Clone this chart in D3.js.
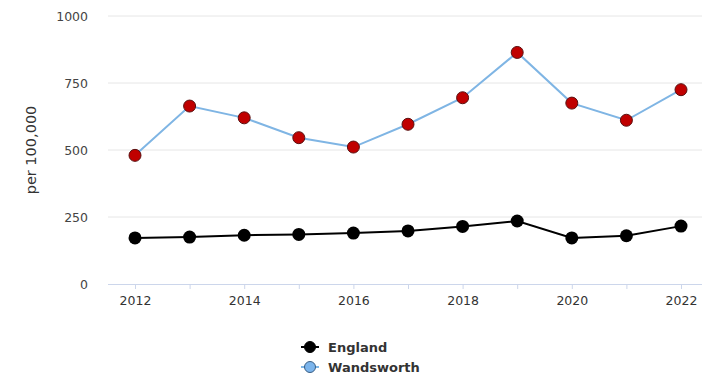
<!DOCTYPE html>
<html><head><meta charset="utf-8">
<script src="https://cdn.jsdelivr.net/npm/d3@7"></script>
<style>body{margin:0;background:#fff}text{font-family:"DejaVu Sans",Verdana,sans-serif}</style>
</head><body><svg id="c" width="702" height="377"></svg>
<script>
const years = [2012,2013,2014,2015,2016,2017,2018,2019,2020,2021,2022];
const england = [172,175,182,185,190,198,215,235,172,180,216];
const wandsworth = [480,664,620,546,511,596,695,864,675,611,725];
const yTicks = [0,250,500,750,1000];
const xTicks = [2012,2014,2016,2018,2020,2022];
const seriesNames = ["England","Wandsworth"];

const svg = d3.select("#c");
const L = 108, R = 702, T = 16, B = 284;
const x = d3.scaleLinear().domain([2012,2022]).range([135,681]);
const y = d3.scaleLinear().domain([0,1000]).range([B,T]);

// gridlines
svg.append("g").selectAll("line").data(yTicks.filter(d=>d>0)).join("line")
  .attr("x1",L).attr("x2",R).attr("y1",d=>y(d)).attr("y2",d=>y(d))
  .attr("stroke","#e6e6e6").attr("stroke-width",1);

// y labels
svg.append("g").selectAll("text").data(yTicks).join("text")
  .attr("x",88).attr("y",d=>y(d)+4.5).attr("text-anchor","end")
  .attr("font-size",12.5).attr("fill","#444").text(d=>d);

// x axis
const xa = svg.append("g").attr("transform",`translate(0,${B})`)
  .call(d3.axisBottom(x).tickValues(years).tickSize(5).tickFormat(d=>xTicks.includes(d)?d:""));
xa.select(".domain").attr("stroke","#ccd6eb").attr("d",`M${L},0.5H${R}`);
xa.selectAll(".tick line").attr("stroke","#ccd6eb");
xa.selectAll(".tick text").attr("font-size",12.5).attr("fill","#333").attr("dy","1.05em")
  .style("font-family","DejaVu Sans, sans-serif");

// y title
svg.append("text").attr("transform",`translate(36,${(T+B)/2}) rotate(-90)`)
  .attr("text-anchor","middle").attr("font-size",14.5).attr("fill","#333").text("per 100,000");

const line = d3.line().x((d,i)=>x(years[i])).y(d=>y(d));

svg.append("path").datum(wandsworth).attr("d",line).attr("fill","none")
  .attr("stroke","#7fb5e4").attr("stroke-width",2);
svg.append("path").datum(england).attr("d",line).attr("fill","none")
  .attr("stroke","#000").attr("stroke-width",2);

svg.append("g").selectAll("circle").data(wandsworth).join("circle")
  .attr("cx",(d,i)=>x(years[i])).attr("cy",d=>y(d)).attr("r",6)
  .attr("fill","#c00000").attr("stroke","#5a1010").attr("stroke-width",1);
svg.append("g").selectAll("circle").data(england).join("circle")
  .attr("cx",(d,i)=>x(years[i])).attr("cy",d=>y(d)).attr("r",6.5)
  .attr("fill","#000");

// legend
const lg = svg.append("g");
const legendCfg = [{name:seriesNames[0],line:"#000",fill:"#000",stroke:"#000",yy:347},
                   {name:seriesNames[1],line:"#7fb5e4",fill:"#7cb5ec",stroke:"#3a5f85",yy:367}];
legendCfg.forEach(s=>{
  lg.append("line").attr("x1",301).attr("x2",319).attr("y1",s.yy).attr("y2",s.yy)
    .attr("stroke",s.line).attr("stroke-width",2);
  lg.append("circle").attr("cx",310).attr("cy",s.yy).attr("r",5.5)
    .attr("fill",s.fill).attr("stroke",s.stroke).attr("stroke-width",1);
  lg.append("text").attr("x",328).attr("y",s.yy+4.5).attr("font-size",13)
    .attr("font-weight","bold").attr("fill","#333").text(s.name);
});
</script></body></html>
